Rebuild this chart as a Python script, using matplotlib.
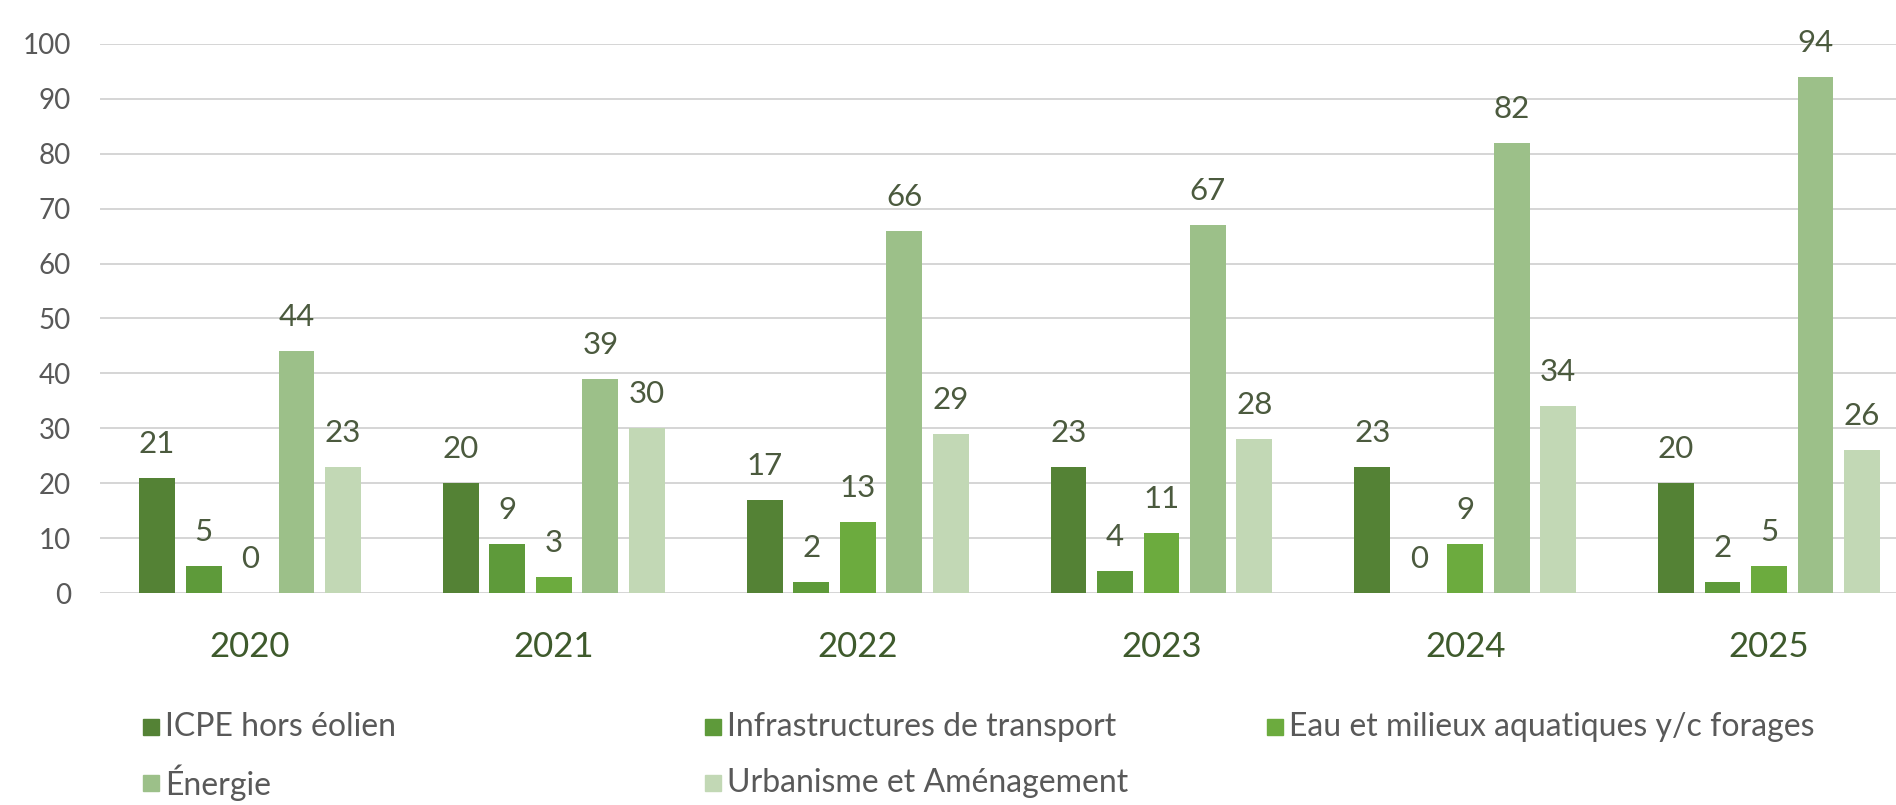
import numpy as np
import matplotlib.pyplot as plt
from matplotlib.patches import Rectangle

plt.rcParams['font.family'] = ['Lato', 'DejaVu Sans']

years = ["2020", "2021", "2022", "2023", "2024", "2025"]
series_names = ["ICPE hors éolien", "Infrastructures de transport",
                "Eau et milieux aquatiques y/c forages", "Énergie",
                "Urbanisme et Aménagement"]
icpe = [21, 20, 17, 23, 23, 20]
infra = [5, 9, 2, 4, 0, 2]
eau = [0, 3, 13, 11, 9, 5]
energie = [44, 39, 66, 67, 82, 94]
urbanisme = [23, 30, 29, 28, 34, 26]
colors = ["#548235", "#5e9a3a", "#6cab3e", "#9cc089", "#c2d8b5"]

all_series = [icpe, infra, eau, energie, urbanisme]

fig = plt.figure(figsize=(18.96, 8.05), dpi=100)
ax = fig.add_axes([100 / 1896, 212 / 805, 1 - 100 / 1896, 549 / 805])

x = np.arange(len(years))
pitch = 0.153
width = 0.118
for i, (vals, name, col) in enumerate(zip(all_series, series_names, colors)):
    xs = x + (i - 2) * pitch
    ax.bar(xs, vals, width=width, color=col, label=name, zorder=3)
    for xi, v in zip(xs, vals):
        ax.annotate(str(v), (xi, v), xytext=(0, 18), textcoords="offset points",
                    ha="center", va="baseline", fontsize=22.5, color="#4b5a3e")

ax.set_xlim(-0.494, 5.418)
ax.set_ylim(0, 100)
ax.set_yticks(range(0, 101, 10))
ax.yaxis.grid(True, color="#d5d5d5", linewidth=1.4, zorder=0)
ax.set_axisbelow(True)
for s in ax.spines.values():
    s.set_visible(False)
ax.tick_params(axis="both", length=0)
ax.tick_params(axis="y", pad=21, labelsize=20, labelcolor="#595959")
ax.set_xticks(x)
ax.set_xticklabels(years)
ax.tick_params(axis="x", pad=27, labelsize=25, labelcolor="#3e5a2c")

# legend laid out like the original (3 columns, 2 rows)
col_x = [143 / 1896, 705 / 1896, 1267 / 1896]
row_y = [727 / 805, 783 / 805]
for i, (name, col) in enumerate(zip(series_names, colors)):
    cx = col_x[i % 3]
    cy = 1 - row_y[i // 3]
    fig.add_artist(Rectangle((cx, cy - 8 / 805), 16 / 1896, 16 / 805,
                             transform=fig.transFigure, color=col))
    fig.text(cx + 22 / 1896, cy, name, va="center", ha="left",
             fontsize=23, color="#595959")

fig.savefig("out.png", dpi=100)
